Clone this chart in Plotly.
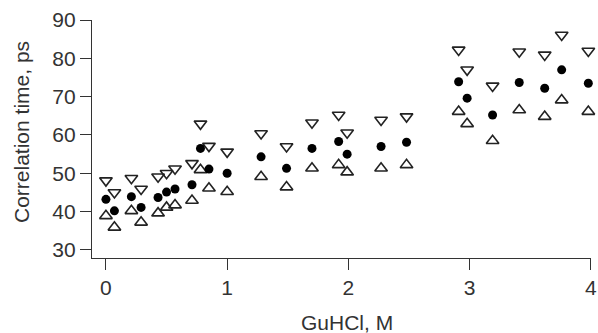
import plotly.graph_objects as go

# GuHCl concentration (M)
guhcl = [0.0, 0.07, 0.21, 0.29, 0.43, 0.50, 0.57, 0.71, 0.78, 0.85, 1.00,
         1.28, 1.49, 1.70, 1.92, 1.99, 2.27, 2.48,
         2.91, 2.98, 3.19, 3.41, 3.62, 3.76, 3.98]
# Correlation time (ps): central values (filled circles)
tau_mid = [43.2, 40.2, 43.9, 41.1, 43.7, 45.1, 45.9, 47.0, 56.5, 51.1, 50.0,
           54.3, 51.3, 56.5, 58.3, 55.0, 57.0, 58.1,
           73.9, 69.6, 65.2, 73.7, 72.2, 77.0, 73.5]
# lower bound (open up-triangles)
tau_low = [38.9, 35.9, 40.2, 37.2, 39.6, 41.1, 41.7, 42.9, 50.9, 46.1, 45.2,
           49.1, 46.4, 51.3, 52.2, 50.3, 51.3, 52.2,
           66.1, 62.9, 58.5, 66.5, 64.8, 69.1, 66.1]
# upper bound (open down-triangles)
tau_high = [48.1, 45.0, 48.7, 45.9, 49.1, 50.0, 51.2, 52.6, 62.9, 57.1, 55.6,
            60.4, 57.0, 63.2, 65.2, 60.6, 63.9, 64.8,
            82.2, 77.0, 72.8, 81.7, 80.9, 86.1, 81.9]

x_ticks = [0, 1, 2, 3, 4]
y_ticks = [30, 40, 50, 60, 70, 80, 90]

fig = go.Figure()
fig.add_trace(go.Scatter(x=guhcl, y=tau_high, mode="markers", cliponaxis=False,
                         marker=dict(symbol="triangle-down-open", size=11,
                                     color="#222", line=dict(width=1.6))))
fig.add_trace(go.Scatter(x=guhcl, y=tau_low, mode="markers", cliponaxis=False,
                         marker=dict(symbol="triangle-up-open", size=11,
                                     color="#222", line=dict(width=1.6))))
fig.add_trace(go.Scatter(x=guhcl, y=tau_mid, mode="markers", cliponaxis=False,
                         marker=dict(symbol="circle", size=9, color="black")))

axis_font = dict(family="Liberation Sans, Arial, sans-serif", size=21, color="#333")
fig.update_layout(
    width=598, height=333,
    margin=dict(l=92, r=7, t=20, b=75),
    plot_bgcolor="white", paper_bgcolor="white",
    showlegend=False,
    font=axis_font,
    xaxis=dict(range=[-0.115, 4.002], tickvals=x_ticks, showline=True,
               linecolor="#333", linewidth=1.3, ticks="outside", ticklen=11,
               tickcolor="#333", tickwidth=1.3, showgrid=False, zeroline=False,
               tickfont=axis_font, automargin=False),
    yaxis=dict(range=[27.9, 90], tickvals=y_ticks, showline=True,
               linecolor="#333", linewidth=1.3, ticks="outside", ticklen=11,
               tickcolor="#333", tickwidth=1.3, showgrid=False, zeroline=False,
               tickfont=axis_font, automargin=False),
    annotations=[
        dict(text="Correlation time, ps", textangle=-90,
             xref="paper", yref="paper", x=0, y=0.5,
             xshift=-71, yshift=7, showarrow=False,
             xanchor="center", yanchor="middle", font=axis_font),
        dict(text="GuHCl, M", xref="paper", yref="paper", x=0.5, y=0,
             xshift=5, yshift=-64, showarrow=False,
             xanchor="center", yanchor="middle", font=axis_font),
    ],
)
fig.write_html("out.html", config={"displayModeBar": False},
               post_script="document.body.style.margin='0';document.body.style.overflow='hidden';")
